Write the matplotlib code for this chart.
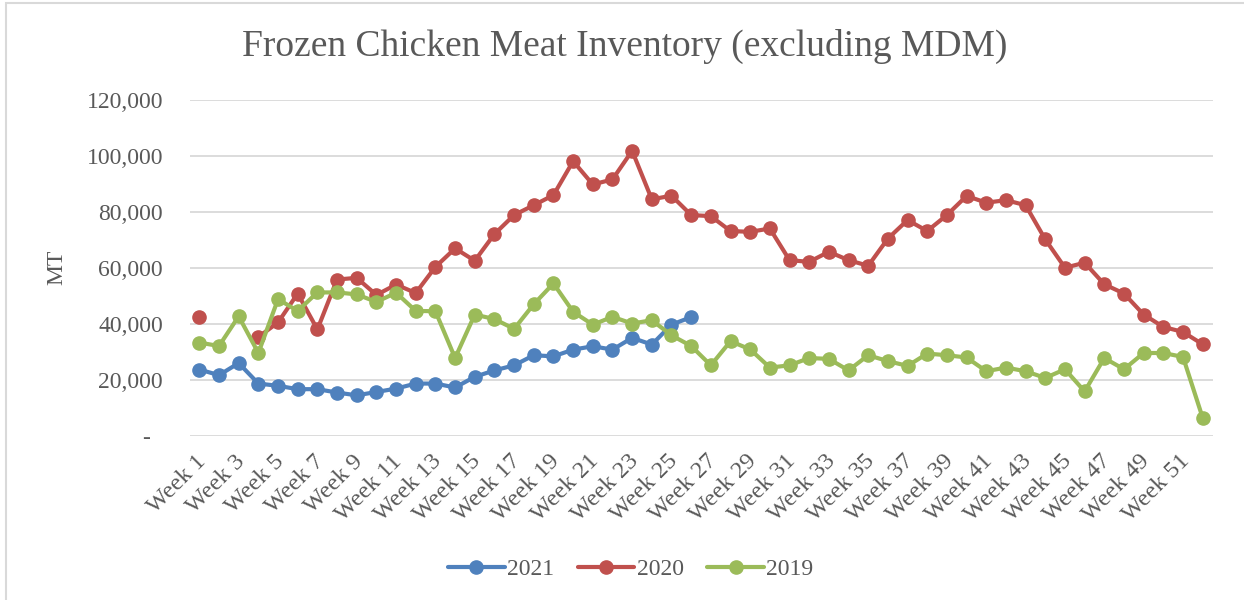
import numpy as np
import matplotlib
matplotlib.use("Agg")
import matplotlib.pyplot as plt
import matplotlib.transforms as mtransforms
from matplotlib.ticker import FuncFormatter
from matplotlib.patches import Rectangle

nan = np.nan
weeks = list(range(1, 53))
week_labels = ["Week %d" % w for w in weeks]

inv_2021 = [23700, 21700, 26000, 18700, 17900, 16700, 16700, 15500, 14500, 15700,
            16900, 18700, 18700, 17300, 21100, 23400, 25200, 28800, 28400, 30800,
            32000, 30800, 35000, 32600, 39700, 42400]
inv_2020 = [42400, nan, nan, 35300, 40500, 50800, 38000, 55800, 56400, 50300,
            54000, 51000, 60300, 66900, 62500, 72000, 78800, 82300, 85900, 98000,
            89700, 91500, 101700, 84400, 85700, 78800, 78400, 73100, 72800, 74000,
            62700, 62100, 65700, 62700, 60700, 70400, 77000, 73100, 78800, 85600,
            83200, 84100, 82300, 70100, 60000, 61800, 54100, 50800, 43300, 38900,
            37100, 32700]
inv_2019 = [33300, 32100, 42700, 29600, 48800, 44600, 51200, 51200, 50500, 47800,
            51100, 44600, 44500, 27800, 43300, 41700, 38200, 47000, 54400, 44300,
            39700, 42500, 40100, 41300, 35900, 32100, 25200, 33800, 30900, 24400,
            25200, 27800, 27500, 23400, 28800, 26700, 25000, 29400, 28800, 28000,
            23100, 24400, 23100, 20700, 23800, 15900, 27800, 23800, 29600, 29600,
            28200, 6500]

txt = "#595959"
plt.rcParams['font.family'] = ['Liberation Serif', 'DejaVu Serif']

fig = plt.figure(figsize=(12.44, 6), dpi=100)
# chart border (right and bottom edges fall outside the crop)
fig.patches.append(Rectangle((6 / 1244, -0.1), 1.2, 1.095,
                             transform=fig.transFigure, fill=False,
                             edgecolor="#d9d9d9", lw=1.5))
ax = fig.add_axes([189.5 / 1244, 1 - 436 / 600, 1023 / 1244, 336.5 / 600])

series = [("2021", inv_2021, "#4F81BD"),
          ("2020", inv_2020, "#C0504D"),
          ("2019", inv_2019, "#9BBB59")]
for name, vals, col in series:
    ax.plot(weeks[:len(vals)], vals, color=col, lw=3, marker="o",
            markersize=9.5, label=name, solid_capstyle="round")

ax.set_xlim(0.5, 52.5)
ax.set_ylim(0, 120000)
ax.set_yticks(range(0, 120001, 20000))
ax.yaxis.set_major_formatter(FuncFormatter(lambda v, p: "-  " if v == 0 else "{:,.0f}".format(v)))
ax.set_xticks(weeks[::2])
ax.set_xticklabels(week_labels[::2], rotation=45, ha="right", va="center",
                   rotation_mode="anchor")
ax.tick_params(axis="both", length=0, colors=txt)
ax.tick_params(axis="y", labelsize=17, pad=19)
ax.tick_params(axis="x", labelsize=17.5, pad=16)
shift = mtransforms.ScaledTranslation(0.03, 0, fig.dpi_scale_trans)
for lab in ax.get_xticklabels():
    lab.set_transform(lab.get_transform() + shift)
ax.grid(axis="y", color="#d9d9d9", lw=1.3)
ax.set_axisbelow(True)
for s in ax.spines.values():
    s.set_visible(False)

ax.set_ylabel("MT", fontsize=17, color=txt, labelpad=14)
fig.text(0.502, 0.923, "Frozen Chicken Meat Inventory (excluding MDM)",
         ha="center", va="center", fontsize=27, color=txt)

leg = fig.legend(loc="center", bbox_to_anchor=(0.507, 0.051), ncol=3, frameon=False,
                 fontsize=17, handlelength=2.4, columnspacing=1.0, handletextpad=0.1)
for t in leg.get_texts():
    t.set_color(txt)

fig.savefig("out.png", dpi=100)
